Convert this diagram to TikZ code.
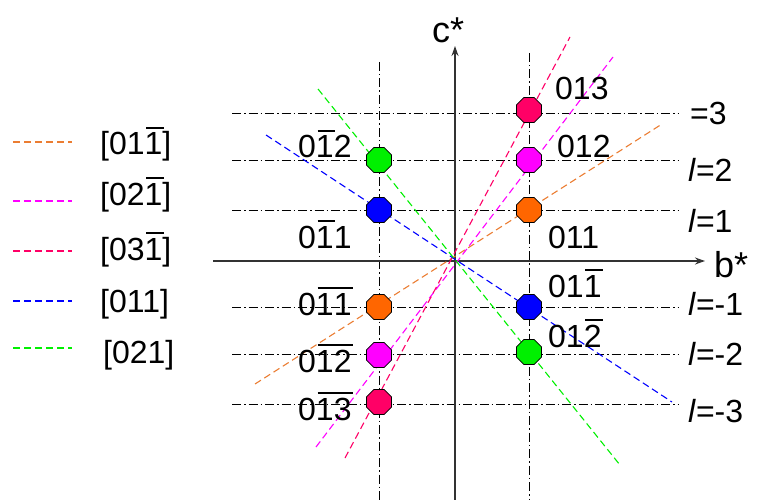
\documentclass[tikz,border=0pt]{standalone}
\usepackage{fontspec}
\setmainfont{Liberation Sans}
\usetikzlibrary{shapes.geometric,arrows.meta}
\definecolor{cOr}{RGB}{255,102,0}
\definecolor{cOrL}{RGB}{235,125,50}
\definecolor{cMa}{RGB}{255,0,255}
\definecolor{cCr}{RGB}{255,0,102}
\definecolor{cBl}{RGB}{0,0,255}
\definecolor{cGr}{RGB}{0,240,0}
\newsavebox{\obbox}
\newcommand{\ob}[1]{\sbox{\obbox}{#1}\rlap{\hspace{0.05em}\raisebox{0.8em}{\rule{\wd\obbox}{0.085em}}}\usebox{\obbox}}
\begin{document}
\begin{tikzpicture}[x=1pt,y=-1pt,
  grid/.style={black,line width=0.85pt,dash pattern=on 9pt off 3pt on 1.5pt off 3pt},
  dirline/.style={line width=1.1pt,dash pattern=on 7pt off 4pt},
  axis/.style={line width=1.3pt,black!80,-{Stealth[length=10pt,width=7pt]}},
  oct/.style={regular polygon,regular polygon sides=8,minimum size=27pt,inner sep=0pt,draw=black,line width=0.6pt},
  lbl/.style={font=\fontsize{32}{36}\selectfont,inner sep=0pt,anchor=base west},
  axlbl/.style={font=\fontsize{36}{40}\selectfont,inner sep=0pt,anchor=base west}]
\useasboundingbox (0,0) rectangle (758,500);
% grid
\foreach \n/\y in {p3/113,p2/160,p1/210,m1/307,m2/354,m3/404}{
  \coordinate (hl\n) at (232,\y);
  \coordinate (hr\n) at (678,\y);
  \draw[grid] (hl\n) -- (hr\n);
}
\coordinate (vlt) at (379,62);
\coordinate (vlb) at (379,500);
\coordinate (vrt) at (529,53);
\coordinate (vrb) at (529,500);
\draw[grid] (vlt) -- (vlb);
\draw[grid] (vrt) -- (vrb);
% axes
\coordinate (O) at (455,260);
\coordinate (bs) at (213,261);
\coordinate (be) at (705,261);
\coordinate (cs) at (455,500);
\coordinate (ce) at (455,46);
\draw[axis] (bs) -- (be);
\draw[axis] (cs) -- (ce);
% direction lines
\coordinate (or1) at (255,384); \coordinate (or2) at (662,124);
\coordinate (ma1) at (316,447); \coordinate (ma2) at (613,57);
\coordinate (cr1) at (345,458); \coordinate (cr2) at (570,37);
\coordinate (bl1) at (266,135); \coordinate (bl2) at (672,402);
\coordinate (gr1) at (318,89);  \coordinate (gr2) at (620,465);
\draw[dirline,cOrL] (or1) -- (or2);
\draw[dirline,cMa] (ma1) -- (ma2);
\draw[dirline,cCr] (cr1) -- (cr2);
\draw[dirline,cBl] (bl1) -- (bl2);
\draw[dirline,cGr] (gr1) -- (gr2);
% reciprocal lattice points
\node[oct,fill=cCr] (r3) at (529,110) {};
\node[oct,fill=cMa] (r2) at (529,160) {};
\node[oct,fill=cOr] (r1) at (529,210) {};
\node[oct,fill=cBl] (rm1) at (529,307) {};
\node[oct,fill=cGr] (rm2) at (529,352) {};
\node[oct,fill=cGr] (l2) at (379,160) {};
\node[oct,fill=cBl] (l1) at (379,210) {};
\node[oct,fill=cOr] (lm1) at (379,307) {};
\node[oct,fill=cMa] (lm2) at (379,355) {};
\node[oct,fill=cCr] (lm3) at (379,402) {};
% point labels
\node[lbl] (t013) at (555,100) {013};
\node[lbl] (t012) at (557,158) {012};
\node[lbl] (t011) at (548,248) {011};
\node[lbl] (t01m1) at (548,297) {01\ob{1}};
\node[lbl] (t01m2) at (548,347) {01\ob{2}};
\node[lbl] (t0m12) at (298,158) {0\ob{1}2};
\node[lbl] (t0m11) at (298,248) {0\ob{1}1};
\node[lbl] (t0m1m1) at (298,315) {0\ob{1}\ob{1}};
\node[lbl] (t0m1m2) at (298,372) {0\ob{1}\ob{2}};
\node[lbl] (t0m1m3) at (298,420) {0\ob{1}\ob{3}};
% layer labels
\node[lbl] (lp3) at (690,125) {=3};
\node[lbl] (lp2) at (688,182) {\textit{l}=2};
\node[lbl] (lp1) at (688,232) {\textit{l}=1};
\node[lbl] (lm1t) at (688,315) {\textit{l}=-1};
\node[lbl] (lm2t) at (688,365) {\textit{l}=-2};
\node[lbl] (lm3t) at (688,422) {\textit{l}=-3};
% axis labels
\node[axlbl] (bstar) at (714,277) {b*};
\node[axlbl] (cstar) at (432,43) {c*};
% legend
\coordinate (ga1) at (13,142); \coordinate (ga2) at (72,142);
\coordinate (gb1) at (13,201); \coordinate (gb2) at (72,201);
\coordinate (gc1) at (13,251); \coordinate (gc2) at (72,251);
\coordinate (gd1) at (13,301); \coordinate (gd2) at (72,301);
\coordinate (ge1) at (13,348); \coordinate (ge2) at (72,348);
\draw[dirline,cOrL] (ga1) -- (ga2);
\draw[dirline,cMa] (gb1) -- (gb2);
\draw[dirline,cCr] (gc1) -- (gc2);
\draw[dirline,cBl] (gd1) -- (gd2);
\draw[dirline,cGr] (ge1) -- (ge2);
\node[lbl] (ga) at (100,155) {[01\ob{1}]};
\node[lbl] (gb) at (100,205) {[02\ob{1}]};
\node[lbl] (gc) at (100,260) {[03\ob{1}]};
\node[lbl] (gd) at (100,312) {[011]};
\node[lbl] (ge) at (103,363) {[021]};
\end{tikzpicture}
\end{document}
